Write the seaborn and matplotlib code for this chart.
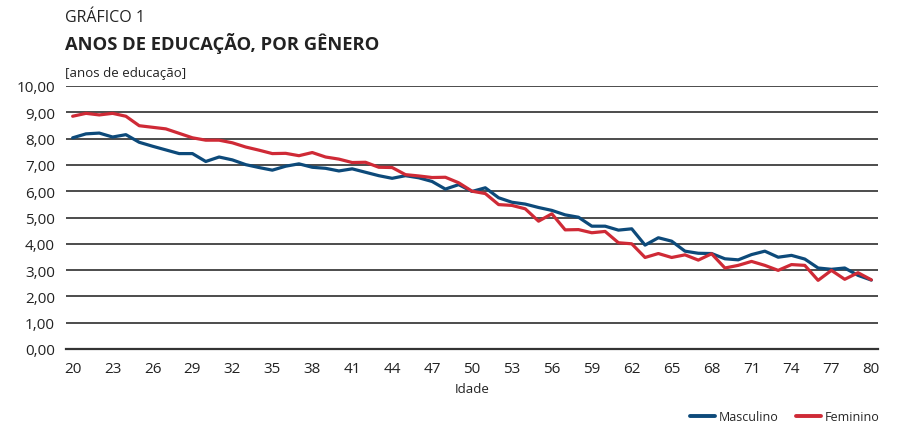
import numpy as np
import pandas as pd
import matplotlib
matplotlib.use("Agg")
import matplotlib.pyplot as plt
from matplotlib.lines import Line2D
from matplotlib.ticker import FixedLocator
import seaborn as sns

ages = list(range(20, 81))
masculino = [8.03, 8.18, 8.21, 8.06, 8.15,
             7.86, 7.71, 7.57, 7.43, 7.43,
             7.13, 7.30, 7.19, 7.01, 6.90,
             6.80, 6.95, 7.04, 6.91, 6.87,
             6.77, 6.85, 6.72, 6.59, 6.49,
             6.59, 6.51, 6.37, 6.08, 6.25,
             5.99, 6.13, 5.75, 5.58, 5.51,
             5.38, 5.27, 5.10, 5.01, 4.67,
             4.67, 4.52, 4.57, 3.95, 4.23,
             4.10, 3.72, 3.64, 3.63, 3.43,
             3.39, 3.59, 3.72, 3.49, 3.56,
             3.42, 3.08, 3.03, 3.08, 2.80,
             2.62]
feminino = [8.85, 8.96, 8.90, 8.96, 8.85,
            8.49, 8.43, 8.37, 8.20, 8.03,
            7.94, 7.94, 7.84, 7.68, 7.56,
            7.43, 7.44, 7.35, 7.47, 7.30,
            7.22, 7.09, 7.10, 6.91, 6.90,
            6.63, 6.58, 6.52, 6.53, 6.32,
            6.00, 5.91, 5.49, 5.46, 5.33,
            4.86, 5.14, 4.53, 4.54, 4.42,
            4.47, 4.04, 4.00, 3.48, 3.63,
            3.48, 3.58, 3.38, 3.62, 3.08,
            3.18, 3.33, 3.18, 2.99, 3.21,
            3.18, 2.61, 2.99, 2.65, 2.90,
            2.63]
series_names = ["Masculino", "Feminino"]
y_ticks = list(range(0, 11))
x_tick_labels = list(range(20, 81, 3))

colors = {"Masculino": "#0d4a7a", "Feminino": "#cf2a36"}

df = pd.DataFrame({
    "Idade": ages * 2,
    "Anos": masculino + feminino,
    "Gênero": ["Masculino"] * len(ages) + ["Feminino"] * len(ages),
})

sns.set_theme(style="white")
plt.rcParams["font.family"] = ["Open Sans", "DejaVu Sans"]

fig = plt.figure(figsize=(9.01, 4.27), dpi=100)
ax = fig.add_axes([66 / 901, 1 - 350 / 427, 812 / 901, 263 / 427])

# horizontal reference lines
for v in y_ticks[1:]:
    ax.axhline(v, color="#2e2e2e", lw=1.2, zorder=1)

sns.lineplot(data=df, x="Idade", y="Anos", hue="Gênero", palette=colors,
             hue_order=series_names, linewidth=2.3, legend=False, ax=ax, zorder=3)

ax.set_xlim(19.5, 80.5)
ax.set_ylim(0, 10)
ax.set_yticks(y_ticks)
ax.set_yticklabels([f"{v:.2f}".replace(".", ",") for v in y_ticks], fontsize=11, color="#222222")
ax.set_xticks(x_tick_labels)
ax.set_xticklabels([str(v) for v in x_tick_labels], fontsize=11, color="#222222")
ax.xaxis.set_minor_locator(FixedLocator(np.arange(19.5, 81, 1)))
ax.tick_params(axis="x", which="major", length=0, pad=9)
ax.tick_params(axis="x", which="minor", direction="in", length=8, width=1.0, color="#333333", top=False)
ax.tick_params(axis="y", length=0, pad=8)

for s in ["top", "right", "left"]:
    ax.spines[s].set_visible(False)
ax.spines["bottom"].set_color("#333333")
ax.spines["bottom"].set_linewidth(1.6)

ax.set_xlabel("Idade", fontsize=9.5, color="#222222", labelpad=4)
ax.set_ylabel("")

fig.text(65 / 901, 1 - 18 / 427, "GRÁFICO 1", fontsize=11.5, va="center", ha="left", color="#222222")
fig.text(65 / 901, 1 - 43 / 427, "ANOS DE EDUCAÇÃO, POR GÊNERO", fontsize=13.2, fontweight="bold",
         va="center", ha="left", color="#222222")
fig.text(65 / 901, 1 - 74 / 427, "[anos de educação]", fontsize=9.5, va="center", ha="left", color="#222222")

handles = [Line2D([0], [0], color=colors[n], lw=2.8) for n in series_names]
fig.legend(handles, series_names, loc="center right", bbox_to_anchor=(879 / 901, 1 - 418 / 427),
           ncol=2, frameon=False, fontsize=9, handlelength=2.0, handletextpad=0.3,
           columnspacing=1.4, borderaxespad=0, borderpad=0)

fig.savefig("out.png", dpi=100)
